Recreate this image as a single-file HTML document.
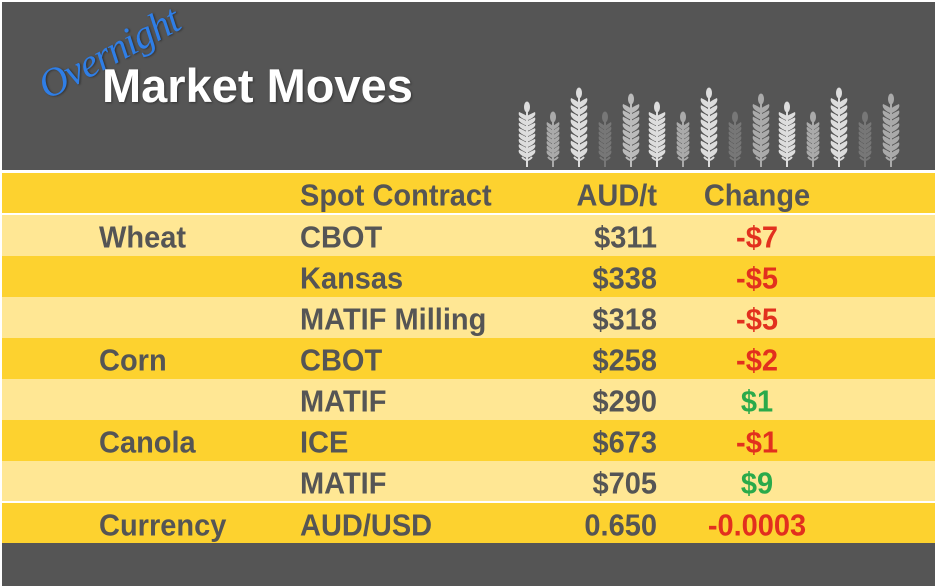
<!DOCTYPE html>
<html><head><meta charset="utf-8"><style>
*{margin:0;padding:0;box-sizing:border-box}
body{width:935px;height:586px;background:#555;position:relative;overflow:hidden;font-family:"Liberation Sans",sans-serif;font-weight:bold}
.top{position:absolute;left:0;top:0;width:935px;height:2px;background:#fff}
.lft{position:absolute;left:0;top:0;width:2px;height:586px;background:#fff}
.row{position:absolute;left:2px;width:933px;height:41px;font-size:29px;color:#555}
.row span{position:absolute;top:3px;line-height:41px;white-space:nowrap;transform:scaleY(1.06)}
.y{background:#FDD22F}.l{background:#FFE794}
.c1{left:97px}.c2{left:298px}.c3{right:278px;text-align:right}.c4{left:695px;width:120px;text-align:center}
.r{color:#E2301E}.g{color:#2AAA4A}
.title{position:absolute;left:102px;top:58px;font-size:47px;color:#fff;line-height:56px;text-shadow:1px 1px 2px #333}
.over{position:absolute;left:52px;top:62px;font-size:40px;color:#2f7ee6;font-style:italic;font-weight:normal;transform:rotate(-28deg);transform-origin:left bottom;font-family:"Liberation Serif",serif;letter-spacing:-1px;text-shadow:1px 1px 2px #333}
</style></head><body>
<div class="top"></div><div class="lft"></div>
<div class="over">Overnight</div>
<div class="title">Market Moves</div>
<svg id="w" width="935" height="172" style="position:absolute;left:0;top:0"></svg>
<div style="position:absolute;left:0;top:170px;width:935px;height:3px;background:#fff"></div>
<div class="row y" style="top:173px;height:40px"><span class="c2">Spot Contract</span><span class="c3">AUD/t</span><span class="c4">Change</span></div>
<div style="position:absolute;left:0;top:213px;width:935px;height:2px;background:#fff"></div>
<div class="row l" style="top:215px"><span class="c1">Wheat</span><span class="c2">CBOT</span><span class="c3">$311</span><span class="c4 r">-$7</span></div>
<div class="row y" style="top:256px"><span class="c2">Kansas</span><span class="c3">$338</span><span class="c4 r">-$5</span></div>
<div class="row l" style="top:297px"><span class="c2">MATIF Milling</span><span class="c3">$318</span><span class="c4 r">-$5</span></div>
<div class="row y" style="top:338px"><span class="c1">Corn</span><span class="c2">CBOT</span><span class="c3">$258</span><span class="c4 r">-$2</span></div>
<div class="row l" style="top:379px"><span class="c2">MATIF</span><span class="c3">$290</span><span class="c4 g">$1</span></div>
<div class="row y" style="top:420px"><span class="c1">Canola</span><span class="c2">ICE</span><span class="c3">$673</span><span class="c4 r">-$1</span></div>
<div class="row l" style="top:461px;height:40px"><span class="c2">MATIF</span><span class="c3">$705</span><span class="c4 g">$9</span></div>
<div style="position:absolute;left:0;top:501px;width:935px;height:2px;background:#fff"></div>
<div class="row y" style="top:503px;height:40px"><span class="c1">Currency</span><span class="c2">AUD/USD</span><span class="c3">0.650</span><span class="c4 r">-0.0003</span></div>
<script>
var tops=[102,112,88,112,94,102,112,88,112,94,102,112,88,112,94];
var cols=["#ddd","#aaa","#ddd","#777","#bbb","#ddd","#aaa","#ddd","#777","#aaa","#ddd","#aaa","#ddd","#777","#aaa"];
var s="";
for(var i=0;i<15;i++){var x=527+i*26,t=tops[i],b=167,c=cols[i];
var sm=(t==112);var w=sm?6:8;
s+='<line x1="'+x+'" y1="'+(t+8)+'" x2="'+x+'" y2="'+b+'" stroke="'+c+'" stroke-width="2"/>';
s+='<ellipse cx="'+x+'" cy="'+(t+5)+'" rx="3" ry="5.5" fill="'+c+'"/>';
var n=sm?7:8,st=(b-10-(t+12))/n;
for(var k=0;k<n;k++){var y=t+12+k*st;
s+='<path d="M'+x+' '+(y+st+1)+' Q'+(x-w-2)+' '+(y+st*0.5)+' '+(x-w)+' '+(y-2)+' Q'+(x-2)+' '+(y+st*0.1)+' '+x+' '+(y+st*0.4)+'Z" fill="'+c+'"/>';
s+='<path d="M'+x+' '+(y+st+1)+' Q'+(x+w+2)+' '+(y+st*0.5)+' '+(x+w)+' '+(y-2)+' Q'+(x+2)+' '+(y+st*0.1)+' '+x+' '+(y+st*0.4)+'Z" fill="'+c+'"/>';}
s+='<path d="M'+(x-5)+' '+(b-10)+' Q'+x+' '+(b-4)+' '+(x+5)+' '+(b-10)+'" stroke="'+c+'" stroke-width="2" fill="none"/>';}
document.getElementById("w").innerHTML=s;
</script>
</body></html>
